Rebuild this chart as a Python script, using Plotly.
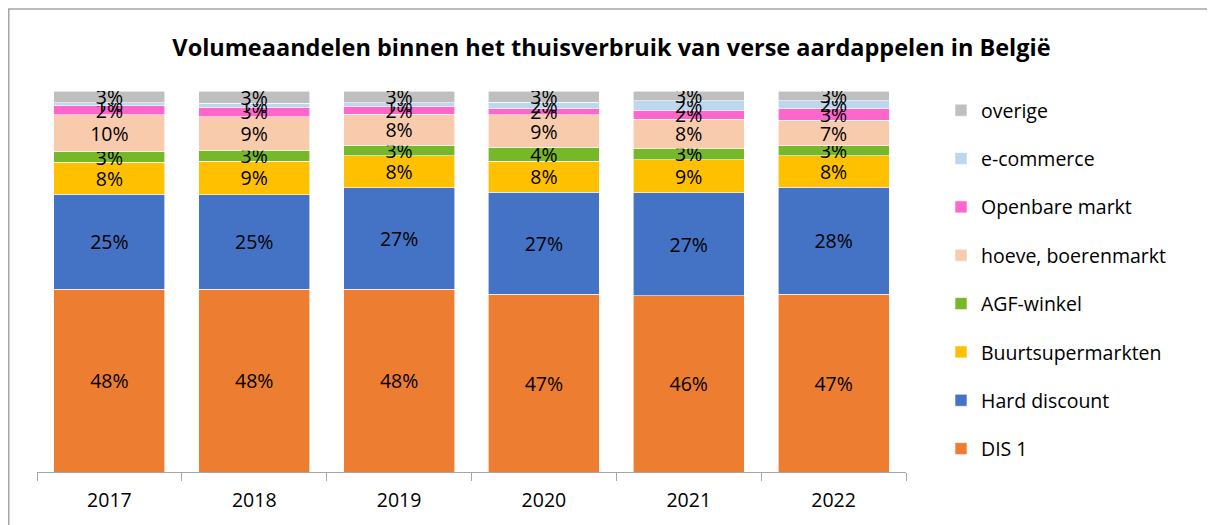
import plotly.graph_objects as go

years = ["2017", "2018", "2019", "2020", "2021", "2022"]
dis1 = [48.0, 48.0, 48.0, 46.6, 46.2, 46.6]
hard_discount = [24.9, 24.8, 26.6, 26.8, 27.1, 28.2]
buurt = [8.4, 8.8, 8.4, 8.1, 8.7, 8.2]
agf = [2.7, 2.8, 2.8, 3.7, 3.0, 2.6]
hoeve = [9.8, 8.8, 8.1, 8.6, 7.6, 6.7]
openbare = [2.3, 2.6, 2.1, 1.6, 2.4, 3.0]
ecommerce = [0.8, 1.0, 0.9, 1.6, 2.4, 2.1]
overige = [3.1, 3.2, 3.1, 3.0, 2.6, 2.6]

series = [
    ("DIS 1", dis1, "#ED7D31"),
    ("Hard discount", hard_discount, "#4472C4"),
    ("Buurtsupermarkten", buurt, "#FFC000"),
    ("AGF-winkel", agf, "#77B72A"),
    ("hoeve, boerenmarkt", hoeve, "#F8CBAD"),
    ("Openbare markt", openbare, "#FF66CC"),
    ("e-commerce", ecommerce, "#BDD7EE"),
    ("overige", overige, "#BFBFBF"),
]

FONT = "Open Sans"
W, H = 1207, 517          # page has an 8px body margin
L, R, T, B = 29, 309, 83, 53

fig = go.Figure()
n = len(series)
for i, (name, vals, col) in enumerate(series):
    fig.add_trace(go.Bar(
        x=years, y=vals, name=name, legendgroup=name, legendrank=n - i,
        marker=dict(color=col, line=dict(color="white", width=0.6)),
        texttemplate="%{y:.0f}%", textposition="inside",
        insidetextanchor="middle", constraintext="none",
        textangle=0,
        textfont=dict(family=FONT, size=19.5, color="black"),
        hoverinfo="name+y",
    ))

pw = W - L - R
ph = H - T - B

fig.update_layout(
    width=W, height=H,
    barmode="stack", bargap=0.234,
    uniformtext=dict(mode=False),
    margin=dict(l=L, r=R, t=T, b=B, autoexpand=False),
    paper_bgcolor="white", plot_bgcolor="white",
    title=dict(text="<b>Volumeaandelen binnen het thuisverbruik van verse aardappelen in België</b>",
               x=0.5, xanchor="center", y=1 - 40 / H, yanchor="middle",
               font=dict(family=FONT, size=23.5, color="black")),
    xaxis=dict(showline=True, linecolor="#A6A6A6", linewidth=1,
               ticks="outside", tickson="boundaries", ticklen=8, tickcolor="#A6A6A6",
               ticklabelstandoff=11,
               tickfont=dict(family=FONT, size=19.5, color="black"),
               showgrid=False, fixedrange=True),
    yaxis=dict(range=[0, 100], visible=False, showgrid=False, fixedrange=True),
    legend=dict(traceorder="grouped", tracegroupgap=20,
                x=(933 - L) / pw, xanchor="left",
                y=(H - B - 83) / ph, yanchor="top",
                font=dict(family=FONT, size=19.5, color="black"),
                bgcolor="rgba(0,0,0,0)"),
    showlegend=True,
)

def px_x(v):
    return (v - L) / pw
def px_y(v):
    return (H - B - v) / ph

# chart frame (top and left border lines)
fig.add_shape(type="line", xref="paper", yref="paper",
              x0=px_x(0), x1=px_x(W), y0=px_y(1), y1=px_y(1),
              line=dict(color="#A6A6A6", width=1.5))
fig.add_shape(type="line", xref="paper", yref="paper",
              x0=px_x(0.75), x1=px_x(0.75), y0=px_y(1), y1=px_y(H),
              line=dict(color="#A6A6A6", width=1.5))

fig.write_html("out.html")
